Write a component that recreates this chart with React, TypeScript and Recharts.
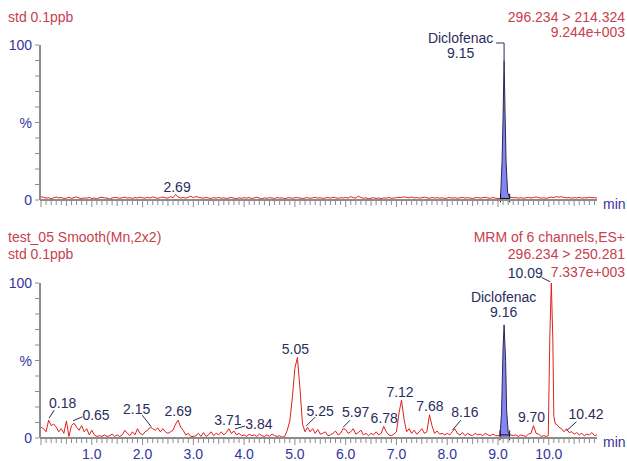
import { ComposedChart, Line, Area, XAxis, YAxis, ReferenceLine, ReferenceDot } from 'recharts';

// sampling interval of the noise traces (minutes)
const STEP = 0.05;
const X_DOMAIN: [number, number] = [-0.02, 10.95];

const xMajorLabels = ['1.0', '2.0', '3.0', '4.0', '5.0', '6.0', '7.0', '8.0', '9.0', '10.0'];
const yTicks = [0, 10, 20, 30, 40, 50, 60, 70, 80, 90, 100];
const yLabelValues = [0, 50, 100];
const yLabelTexts = ['0', '%', '100'];

// upper trace: 296.234 > 214.324, % intensity every 0.05 min from 0.00
const topNoise = [
  2, 1.8, 1.2, 1.5, 0.8, 1.4, 1.9, 1.3, 1.6, 1.0, 1.2, 1.7, 1.1, 1.5, 2.0, 1.3, 0.9, 1.4, 1.2, 1.6,
  1.0, 1.3, 0.7, 1.5, 1.8, 1.4, 1.2, 0.6, 1.3, 1.7, 1.5, 1.1, 1.4, 1.9, 1.2, 1.5, 1.0, 1.6, 1.3, 1.8,
  1.4, 1.2, 1.7, 1.3, 2.0, 1.5, 1.1, 1.6, 1.9, 1.4, 1.2, 2.1, 1.5, 3.5, 2.0, 1.3, 1.6, 1.2, 1.8, 2.4,
  1.5, 2.2, 1.8, 1.4, 1.2, 1.6, 1.3, 1.0, 1.5, 1.2, 1.7, 1.1, 1.4, 1.0, 1.3, 1.6, 1.2, 0.9, 1.4, 1.1,
  1.5, 1.2, 1.6, 1.0, 1.3, 1.8, 1.2, 0.7, 1.4, 1.1, 1.5, 1.3, 1.0, 1.6, 1.2, 1.4, 0.9, 1.3, 1.5, 1.1,
  1.4, 1.6, 1.2, 1.0, 1.3, 1.5, 1.1, 1.4, 1.7, 1.2, 1.5, 1.0, 1.3, 1.6, 1.2, 1.8, 1.4, 1.1, 1.5, 1.3,
  1.6, 1.2, 2.2, 1.5, 1.3, 2.5, 1.6, 1.1, 1.4, 0.8, 1.2, 1.5, 1.0, 1.3, 0.9, 1.4, 1.2, 1.6, 1.1, 1.3,
  1.5, 1.8, 1.6, 2.0, 1.7, 1.4, 1.9, 1.3, 1.6, 1.2, 1.5, 1.8, 1.4, 1.1, 1.6, 1.3, 1.5, 1.2, 1.4, 1.0,
  1.3, 1.6, 1.2, 1.5, 1.1, 1.4, 1.7, 1.2, 1.5, 1.3, 1.0, 1.4, 1.6, 1.2, 1.5, 1.8, 1.3, 1.1, 1.6, 1.2,
  1.0, 1.2, 1.1, 1.3, 1.2, 1.8, 1.4, 1.6, 1.2, 1.5, 1.1, 1.4, 1.7, 1.3, 1.6, 2.0, 1.5, 1.2, 1.4, 1.1,
  1.5, 1.9, 1.6, 2.2, 1.8, 2.1, 1.7, 1.4, 1.6, 1.2, 1.5, 1.3, 1.7, 1.2, 1.5, 1.3, 1.8, 1.4, 1.6, 1.2,
];
const topDiclofenac: [number, number][] = [
  [9.05, 1], [9.08, 25], [9.1, 53], [9.12, 90], [9.14, 55], [9.16, 24], [9.19, 5], [9.23, 1.5],
];

// lower trace: 296.234 > 250.281
const bottomNoise = [
  7, 6, 4, 11.5, 8, 9, 7, 4, 6, 3, 11, 1, 8, 9.5, 7, 5, 8, 4, 6, 2,
  5, 2, 1, 1.5, 1, 2, 1, 1.5, 2.5, 1, 2, 1, 2, 5, 3, 1.5, 4, 2, 6, 3,
  2, 4, 5, 7, 6, 5, 6.5, 4, 6, 4, 3, 4, 5, 9, 11.5, 7, 5, 2, 3, 1,
  1, 1.5, 3, 1, 3.5, 1, 2, 4, 1.5, 3, 2, 4, 2, 3.5, 6, 3, 4.5, 2, 3, 1.5,
  2, 1, 2.5, 1.5, 2, 1, 2.5, 1.5, 1, 2, 1, 2.5, 1.5, 1, 1.5, 0.5, 1, 5, 11, 26,
  45, 52, 32, 9, 4, 7, 4, 6, 3, 5.5, 2.5, 3, 4, 1.5, 2, 3, 4.5, 2, 3, 6,
  5.5, 3, 4, 6, 2.5, 3.5, 5, 2, 3, 1.5, 3, 2, 4, 2, 3, 7.5, 4, 2, 1.5, 2.5,
  4, 16, 24.5, 12, 4, 6, 3, 5, 2.5, 4, 6, 3, 4, 15, 8, 3, 4.5, 2.5, 3, 2,
  3, 2, 4, 6, 3, 2, 3.5, 1.5, 3, 2, 1.5, 3, 2, 2.5, 1.5, 3, 2, 1.5, 2.5, 1.5,
  1.5, 1.5, 2, 2, 2, 2, 1.5, 2, 1, 2, 1.5, 1, 2.5, 3, 8, 3, 2.5, 1, 1.5, 1,
  1.5, 60, 40, 9, 7, 6, 4, 6, 3.5, 4, 2.5, 3.5, 2, 3, 1.5, 2.5, 2, 3.5, 1.5, 2,
];
const bottomDiclofenac: [number, number][] = [
  [9.04, 1.5], [9.07, 16], [9.1, 58], [9.12, 73], [9.15, 50], [9.17, 18], [9.2, 4], [9.23, 2],
];
const bottomPeak1009: [number, number][] = [
  [9.99, 1.5], [10.02, 64], [10.05, 100], [10.08, 64], [10.1, 14], [10.13, 9],
];

const topHeadLeft = ['std 0.1ppb'];
const topHeadRight = ['296.234 > 214.324', '9.244e+003'];
const bottomHeadLeft = ['test_05 Smooth(Mn,2x2)', 'std 0.1ppb'];
const bottomHeadRight = ['MRM of 6 channels,ES+', '296.234 > 250.281', '7.337e+003'];

type PeakLabelDef = { t: number; v: number; lines: string[] };
const topLabels: PeakLabelDef[] = [
  { t: 2.65, v: 3.5, lines: ['2.69'] },
  { t: 9.12, v: 90, lines: ['Diclofenac', '9.15'] },
];
const bottomLabels: PeakLabelDef[] = [
  { t: 0.15, v: 11.5, lines: ['0.18'] },
  { t: 0.65, v: 9.5, lines: ['0.65'] },
  { t: 2.15, v: 7, lines: ['2.15'] },
  { t: 2.7, v: 11.5, lines: ['2.69'] },
  { t: 3.7, v: 6, lines: ['3.71'] },
  { t: 3.8, v: 4.5, lines: ['3.84'] },
  { t: 5.05, v: 52, lines: ['5.05'] },
  { t: 5.25, v: 7, lines: ['5.25'] },
  { t: 5.95, v: 6, lines: ['5.97'] },
  { t: 6.75, v: 7.5, lines: ['6.78'] },
  { t: 7.1, v: 24.5, lines: ['7.12'] },
  { t: 7.65, v: 15, lines: ['7.68'] },
  { t: 8.15, v: 6, lines: ['8.16'] },
  { t: 9.7, v: 8, lines: ['9.70'] },
  { t: 10.35, v: 6, lines: ['10.42'] },
  { t: 9.12, v: 73, lines: ['Diclofenac', '9.16'] },
  { t: 10.05, v: 100, lines: ['10.09'] },
];

// pixel placement of each label relative to its peak (dx, dy of the last line; optional leader)
type Place = { dx: number; dy: number; leader?: [number, number][] };
const topPlace: Place[] = [
  { dx: 1.5, dy: -3 },
  { dx: -43.5, dy: -2.5, leader: [[-8, -17.5], [0, -17.5], [0, 0]] },
];
const bottomPlace: Place[] = [
  { dx: 14, dy: -12, leader: [[5.5, -10], [0.5, -2]] },
  { dx: 22, dy: -3, leader: [[8.5, -6.5], [-1, -2.5]] },
  { dx: -13.5, dy: -13, leader: [[-8, -12], [1, -0.5]] },
  { dx: 0, dy: -4 },
  { dx: -1, dy: -4 },
  { dx: 25, dy: -2, leader: [[11, -5], [1, -2]] },
  { dx: -2, dy: -3 },
  { dx: 12.5, dy: -11, leader: [[7.5, -10], [-1.5, -1]] },
  { dx: 12.5, dy: -11.5, leader: [[7, -8.5], [0, -1.5]] },
  { dx: 0.5, dy: -3.5 },
  { dx: -1.5, dy: -3 },
  { dx: 0.5, dy: -4 },
  { dx: 10, dy: -11.5, leader: [[6, -8.5], [-2.5, 1.5]] },
  { dx: -2, dy: -4 },
  { dx: 19.5, dy: -9.5, leader: [[10, -7], [0, 2]] },
  { dx: -0.5, dy: -7.5 },
  { dx: -26, dy: -5, leader: [[-9.5, -5.5], [-1.3, -1.3]] },
];

const FONT = '"Liberation Sans", Arial, sans-serif';
const RED = '#e0201c';
const HEAD = '#c8404e';
const NAVY = '#2c2c5c';
const BLUE = '#3434a0';
const GREY = '#8c8c8c';

const xTicks: number[] = [];
for (let i = 0; i <= 109; i++) xTicks.push(i / 10);

// red = trace outside integrated peak, fill = integrated peak (drawn as navy outlined area)
type Row = { t: number; red: number | null; fill: number | null };

function buildTrace(noise: number[], segments: { pts: [number, number][]; filled: boolean }[]): Row[] {
  let rows: Row[] = noise.map((v, i) => ({ t: Math.round(i * STEP * 100) / 100, red: v, fill: null }));
  segments.forEach(seg => {
    const a = seg.pts[0][0];
    const b = seg.pts[seg.pts.length - 1][0];
    rows = rows.filter(r => r.t < a || r.t > b);
    seg.pts.forEach(([t, v]) => {
      const edge = t === a || t === b;
      rows.push({ t, red: !seg.filled || edge ? v : null, fill: seg.filled ? v : null });
    });
  });
  return rows.sort((p, q) => p.t - q.t);
}

const topData = buildTrace(topNoise, [{ pts: topDiclofenac, filled: true }]);
const bottomData = buildTrace(bottomNoise, [
  { pts: bottomDiclofenac, filled: true },
  { pts: bottomPeak1009, filled: false },
]);

function XTick(props: any) {
  const { x, y, payload, showLabels } = props;
  const v = payload.value as number;
  const whole = Math.abs(v - Math.round(v)) < 1e-6;
  const half = Math.abs(v * 2 - Math.round(v * 2)) < 1e-6;
  const len = whole ? 6 : half ? 5 : 4;
  const label = showLabels && whole && v >= 1 ? xMajorLabels[Math.round(v) - 1] : null;
  return (
    <g>
      <line x1={x} x2={x} y1={y + 1} y2={y + 1 + len} stroke={GREY} strokeWidth={1} />
      {label && (
        <text x={x} y={y + 20.5} textAnchor="middle" fontSize={14} fill={BLUE} style={{ fontFamily: FONT }}>
          {label}
        </text>
      )}
    </g>
  );
}

function YTick(props: any) {
  const { x, y, payload } = props;
  const idx = yLabelValues.indexOf(payload.value);
  return (
    <g>
      <line x1={x - 5} x2={x - 1} y1={y} y2={y} stroke={GREY} strokeWidth={1} />
      {idx >= 0 && (
        <text x={x - 8} y={y + 5} textAnchor="end" fontSize={14} fill={BLUE} style={{ fontFamily: FONT }}>
          {yLabelTexts[idx]}
        </text>
      )}
    </g>
  );
}

function PeakLabel({ cx, cy, lines, place }: { cx: number; cy: number; lines: string[]; place: Place }) {
  return (
    <g>
      {place.leader && (
        <polyline
          points={place.leader.map(([lx, ly]) => `${cx + lx},${cy + ly}`).join(' ')}
          fill="none"
          stroke={NAVY}
          strokeWidth={1}
        />
      )}
      {lines.map((s, i) => (
        <text
          key={s}
          x={cx + place.dx}
          y={cy + place.dy - (lines.length - 1 - i) * 15.5}
          textAnchor="middle"
          fontSize={14}
          fill={NAVY}
          style={{ fontFamily: FONT }}
        >
          {s}
        </text>
      ))}
    </g>
  );
}

type PanelProps = {
  height: number;
  marginTop: number;
  axisHeight: number;
  data: Row[];
  peak: [number, number][];
  baseLevel: number;
  labels: PeakLabelDef[];
  places: Place[];
  showXLabels: boolean;
};

function Panel({ height, marginTop, axisHeight, data, peak, baseLevel, labels, places, showXLabels }: PanelProps) {
  const a = peak[0][0];
  const b = peak[peak.length - 1][0];
  return (
    <ComposedChart
      width={627}
      height={height}
      data={data}
      margin={{ top: marginTop, right: 30, bottom: 0, left: 0 }}
    >
      <XAxis
        type="number"
        dataKey="t"
        domain={X_DOMAIN}
        allowDataOverflow
        ticks={xTicks}
        interval={0}
        height={axisHeight}
        tickSize={0}
        tickMargin={0}
        tickLine={false}
        axisLine={{ stroke: GREY, strokeWidth: 2 }}
        tick={(p: any) => <XTick {...p} showLabels={showXLabels} />}
      />
      <YAxis
        type="number"
        domain={[0, 100]}
        allowDataOverflow
        ticks={yTicks}
        interval={0}
        width={40}
        tickSize={0}
        tickMargin={0}
        tickLine={false}
        axisLine={{ stroke: GREY, strokeWidth: 2 }}
        tick={(p: any) => <YTick {...p} />}
      />
      <Area
        dataKey="fill"
        type="linear"
        fill="#8484f4"
        fillOpacity={1}
        stroke="#2a2a50"
        strokeWidth={1}
        connectNulls={false}
        dot={false}
        isAnimationActive={false}
      />
      <Line
        dataKey="red"
        type="linear"
        stroke={RED}
        strokeWidth={1}
        dot={false}
        connectNulls={false}
        isAnimationActive={false}
      />
      <ReferenceLine segment={[{ x: a, y: baseLevel }, { x: b, y: baseLevel }]} stroke="#111" ifOverflow="visible" />
      <ReferenceLine segment={[{ x: a, y: -1.5 }, { x: a, y: baseLevel + 3 }]} stroke="#111" ifOverflow="visible" />
      <ReferenceLine segment={[{ x: b, y: -1.5 }, { x: b, y: baseLevel + 3 }]} stroke="#111" ifOverflow="visible" />
      {labels.map((l, i) => (
        <ReferenceDot
          key={i}
          x={l.t}
          y={l.v}
          r={0}
          ifOverflow="visible"
          shape={(p: any) => <PeakLabel cx={p.cx} cy={p.cy} lines={l.lines} place={places[i]} />}
        />
      ))}
    </ComposedChart>
  );
}

function Header({ left, right, baselines }: { left: string[]; right: string[]; baselines: number[] }) {
  return (
    <>
      {left.map((s, i) => (
        <text key={'l' + i} x={8} y={baselines[i]} fontSize={14} fill={HEAD} style={{ fontFamily: FONT }}>
          {s}
        </text>
      ))}
      {right.map((s, i) => (
        <text key={'r' + i} x={625} y={baselines[i]} textAnchor="end" fontSize={14} fill={HEAD} style={{ fontFamily: FONT }}>
          {s}
        </text>
      ))}
    </>
  );
}

export default function App() {
  return (
    <div style={{ position: 'absolute', left: 0, top: 0, width: 627, height: 461, background: '#fff', overflow: 'hidden' }}>
      <div style={{ position: 'absolute', left: 0, top: 0 }}>
        <Panel
          height={220}
          marginTop={45}
          axisHeight={20}
          data={topData}
          peak={topDiclofenac}
          baseLevel={1}
          labels={topLabels}
          places={topPlace}
          showXLabels={false}
        />
      </div>
      <div style={{ position: 'absolute', left: 0, top: 220 }}>
        <Panel
          height={241}
          marginTop={63}
          axisHeight={23}
          data={bottomData}
          peak={bottomDiclofenac}
          baseLevel={2}
          labels={bottomLabels}
          places={bottomPlace}
          showXLabels
        />
      </div>
      <svg width={627} height={461} style={{ position: 'absolute', left: 0, top: 0, pointerEvents: 'none' }}>
        <Header left={topHeadLeft} right={topHeadRight} baselines={[21.5, 37]} />
        <Header left={bottomHeadLeft} right={bottomHeadRight} baselines={[242, 259, 276.5]} />
        <text x={603} y={209} fontSize={14} fill={BLUE} style={{ fontFamily: FONT }}>min</text>
        <text x={603} y={446.5} fontSize={14} fill={BLUE} style={{ fontFamily: FONT }}>min</text>
      </svg>
    </div>
  );
}
